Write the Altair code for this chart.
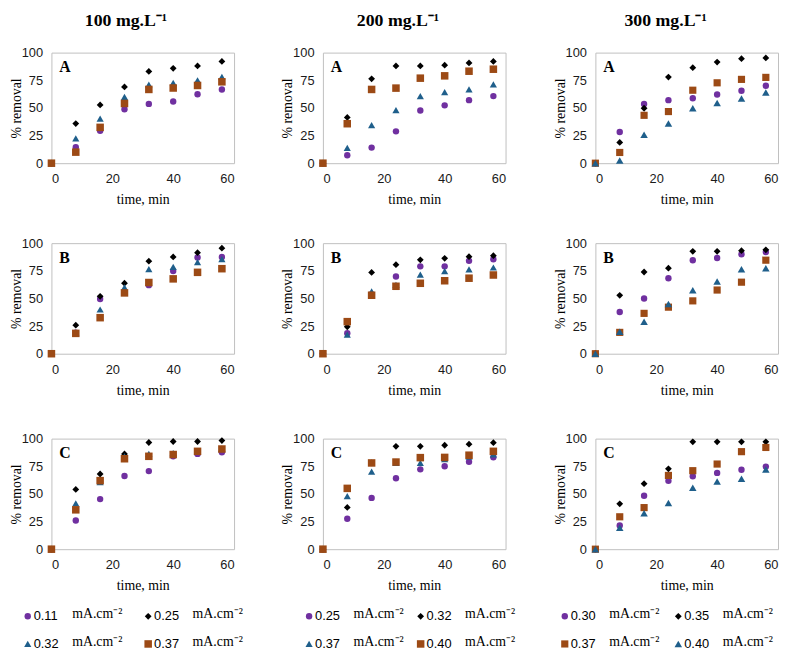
import altair as alt
import pandas as pd

# ---------------- data ----------------
TIME = [0, 8, 16, 24, 32, 40, 48, 56]
COLUMN_TITLES = ["100 mg.L⁻¹", "200 mg.L⁻¹", "300 mg.L⁻¹"]
PANEL_LETTERS = ["A", "B", "C"]
UNIT = "mA.cm⁻²"

CURRENTS_100 = ["0.11", "0.25", "0.32", "0.37"]
CURRENTS_200 = ["0.25", "0.32", "0.37", "0.40"]
CURRENTS_300 = ["0.30", "0.35", "0.37", "0.40"]

# 100 mg/L
A_100 = {
    "0.11": [0, 14.5, 29.4, 48.8, 53.6, 55.8, 62.4, 66.7],
    "0.25": [0, 35.8, 52.7, 69.0, 83.0, 85.8, 88.0, 92.0],
    "0.32": [0, 22.4, 40.3, 60.0, 71.0, 72.7, 75.0, 78.0],
    "0.37": [0, 10.0, 32.4, 54.0, 66.7, 68.0, 70.3, 73.6],
}
B_100 = {
    "0.11": [0, 19.0, 49.5, 55.5, 62.0, 74.8, 87.0, 87.5],
    "0.25": [0, 25.8, 51.9, 63.8, 83.7, 87.5, 91.4, 95.5],
    "0.32": [0, 19.3, 40.0, 60.0, 76.6, 78.6, 82.8, 85.5],
    "0.37": [0, 18.4, 32.6, 55.0, 64.4, 67.7, 73.6, 76.9],
}
C_100 = {
    "0.11": [0, 25.9, 45.3, 66.2, 70.6, 84.0, 86.2, 87.6],
    "0.25": [0, 54.0, 68.0, 86.2, 96.5, 97.4, 97.4, 98.2],
    "0.32": [0, 41.5, 60.6, 84.0, 86.2, 87.0, 88.5, 91.0],
    "0.37": [0, 35.6, 62.0, 81.8, 84.0, 85.6, 88.5, 90.6],
}
# 200 mg/L
A_200 = {
    "0.25": [0, 7.2, 14.1, 28.8, 47.7, 52.3, 57.0, 60.7],
    "0.32": [0, 41.4, 76.3, 88.0, 88.0, 88.6, 90.7, 92.0],
    "0.37": [0, 13.8, 34.5, 48.0, 60.7, 64.3, 66.7, 71.2],
    "0.40": [0, 35.7, 66.7, 67.9, 76.9, 79.0, 83.2, 85.0],
}
B_200 = {
    "0.25": [0, 18.6, 53.5, 69.8, 79.0, 79.0, 84.0, 85.5],
    "0.32": [0, 24.4, 73.5, 80.5, 84.9, 86.3, 87.8, 88.7],
    "0.37": [0, 17.2, 56.4, 62.2, 71.5, 74.7, 76.2, 78.0],
    "0.40": [0, 29.0, 52.9, 61.0, 63.7, 66.0, 68.3, 71.2],
}
C_200 = {
    "0.25": [0, 27.5, 46.4, 64.2, 72.2, 75.0, 79.0, 83.1],
    "0.32": [0, 37.8, 78.0, 93.0, 93.0, 94.0, 95.0, 96.3],
    "0.37": [0, 47.9, 70.2, 78.0, 78.0, 81.4, 83.7, 85.7],
    "0.40": [0, 55.0, 78.0, 78.8, 82.8, 83.0, 85.0, 88.5],
}
# 300 mg/L
A_300 = {
    "0.30": [0, 28.2, 53.6, 57.0, 58.8, 62.1, 65.5, 70.0],
    "0.35": [0, 18.8, 49.7, 77.9, 86.4, 91.5, 94.5, 95.2],
    "0.37": [0, 9.7, 43.3, 46.7, 66.0, 72.7, 75.8, 77.6],
    "0.40": [0, 2.4, 25.8, 35.8, 49.7, 54.5, 58.5, 64.0],
}
B_300 = {
    "0.30": [0, 37.7, 50.0, 68.2, 84.6, 86.6, 90.0, 92.0],
    "0.35": [0, 52.8, 73.9, 77.4, 92.6, 92.6, 93.2, 94.0],
    "0.37": [0, 19.3, 36.5, 42.1, 47.8, 57.6, 64.7, 84.6],
    "0.40": [0, 19.9, 29.0, 45.0, 57.3, 65.3, 76.3, 77.2],
}
C_300 = {
    "0.30": [0, 21.5, 48.3, 61.8, 66.0, 69.0, 71.8, 74.7],
    "0.35": [0, 41.0, 59.2, 72.7, 97.1, 97.1, 97.1, 97.1],
    "0.37": [0, 29.3, 37.6, 66.7, 71.0, 77.0, 88.2, 92.0],
    "0.40": [0, 19.3, 32.5, 41.7, 55.5, 61.2, 63.8, 72.0],
}

COLUMNS = [
    (CURRENTS_100, [A_100, B_100, C_100]),
    (CURRENTS_200, [A_200, B_200, C_200]),
    (CURRENTS_300, [A_300, B_300, C_300]),
]

# ---------------- styles ----------------
MARKER_STYLE = {
    "circle": ("circle", "#7030A0", 42),
    "diamond": ("diamond", "#000000", 58),
    "triangle": ("triangle-up", "#1F5F8B", 55),
    "square": ("square", "#9C4A15", 42),
}
COLUMN_MARKERS = [
    ["circle", "diamond", "triangle", "square"],
    ["circle", "diamond", "triangle", "square"],
    ["circle", "diamond", "square", "triangle"],
]
LEGEND_X = [[-24, 98], [-14, 99], [-31, 84]]

SERIF = "Liberation Serif"
SANS = "Liberation Sans"
PW, PH = 185, 112


def encodings(currents, markers):
    shapes = [MARKER_STYLE[m][0] for m in markers]
    colors = [MARKER_STYLE[m][1] for m in markers]
    sizes = [MARKER_STYLE[m][2] for m in markers]
    return dict(
        shape=alt.Shape("current:N", scale=alt.Scale(domain=currents, range=shapes), legend=None),
        color=alt.Color("current:N", scale=alt.Scale(domain=currents, range=colors), legend=None),
        size=alt.Size("current:N", scale=alt.Scale(domain=currents, range=sizes), legend=None),
    )


def panel(currents, markers, values, letter):
    rows = []
    for cur in currents:
        for t, v in zip(TIME, values[cur]):
            rows.append({"time": t, "removal": v, "current": cur})
    df = pd.DataFrame(rows)
    pts = alt.Chart(df).mark_point(filled=True, opacity=1).encode(
        x=alt.X("time:Q", scale=alt.Scale(domain=[0, 60], nice=False),
                axis=alt.Axis(values=[0, 20, 40, 60], title="time, min",
                              labelPadding=10, titlePadding=7)),
        y=alt.Y("removal:Q", scale=alt.Scale(domain=[0, 100], nice=False),
                axis=alt.Axis(values=[0, 25, 50, 75, 100], title="% removal",
                              labelPadding=9, titlePadding=-2)),
        **encodings(currents, markers),
    )
    lab = alt.Chart(pd.DataFrame({"letter": [letter]})).mark_text(
        font=SERIF, fontSize=16, fontWeight="bold", align="left", baseline="middle", color="#000"
    ).encode(text="letter:N", x=alt.value(8), y=alt.value(15))
    return alt.layer(pts, lab).properties(width=PW, height=PH)


def legend(currents, markers, xpos):
    rows = []
    for i, cur in enumerate(currents):
        rows.append({"current": cur, "lx": i % 2, "ly": i // 2})
    df = pd.DataFrame(rows)
    xs = alt.X("lx:Q", scale=alt.Scale(domain=[0, 1], range=xpos), axis=None)
    ys = alt.Y("ly:Q", scale=alt.Scale(domain=[0, 1], range=[18, 46]), axis=None)
    pts = alt.Chart(df).mark_point(filled=True, opacity=1).encode(
        x=xs, y=ys, **encodings(currents, markers))
    num = alt.Chart(df).mark_text(font=SANS, fontSize=13, align="left", baseline="middle",
                                  dx=6, color="#000").encode(x=xs, y=ys, text="current:N")
    unit = alt.Chart(df).mark_text(font=SERIF, fontSize=14, align="left", baseline="middle",
                                   dx=45, dy=-2, color="#000").encode(
        x=xs, y=ys, text=alt.value(UNIT))
    return alt.layer(pts, num, unit).properties(
        width=PW, height=50, view=alt.ViewBackground(stroke="transparent"))


columns = []
for ci, (currents, panels) in enumerate(COLUMNS):
    markers = COLUMN_MARKERS[ci]
    p = [panel(currents, markers, vals, PANEL_LETTERS[ri]) for ri, vals in enumerate(panels)]
    stack = alt.vconcat(alt.vconcat(p[0], p[1], spacing=29), p[2], spacing=34)
    col = alt.vconcat(
        stack, legend(currents, markers, LEGEND_X[ci]), spacing=4,
        title=alt.TitleParams(COLUMN_TITLES[ci], font=SERIF, fontSize=18, fontWeight="bold",
                              anchor="middle", offset=16, color="#000"),
    )
    columns.append(col)

chart = alt.hconcat(*columns, spacing=36).resolve_scale(
    color="independent", shape="independent", size="independent"
).properties(
    padding={"left": 0, "top": 0, "right": 0, "bottom": 0}
).configure_view(
    stroke="#BFBFBF", strokeWidth=1
).configure_axis(
    grid=False, ticks=False, domain=False,
    labelFont=SANS, labelFontSize=13, labelColor="#1a1a1a",
    titleFont=SERIF, titleFontSize=14, titleFontWeight="normal", titleColor="#000",
)

chart.save("out.html", embed_options={"renderer": "svg", "actions": False})
